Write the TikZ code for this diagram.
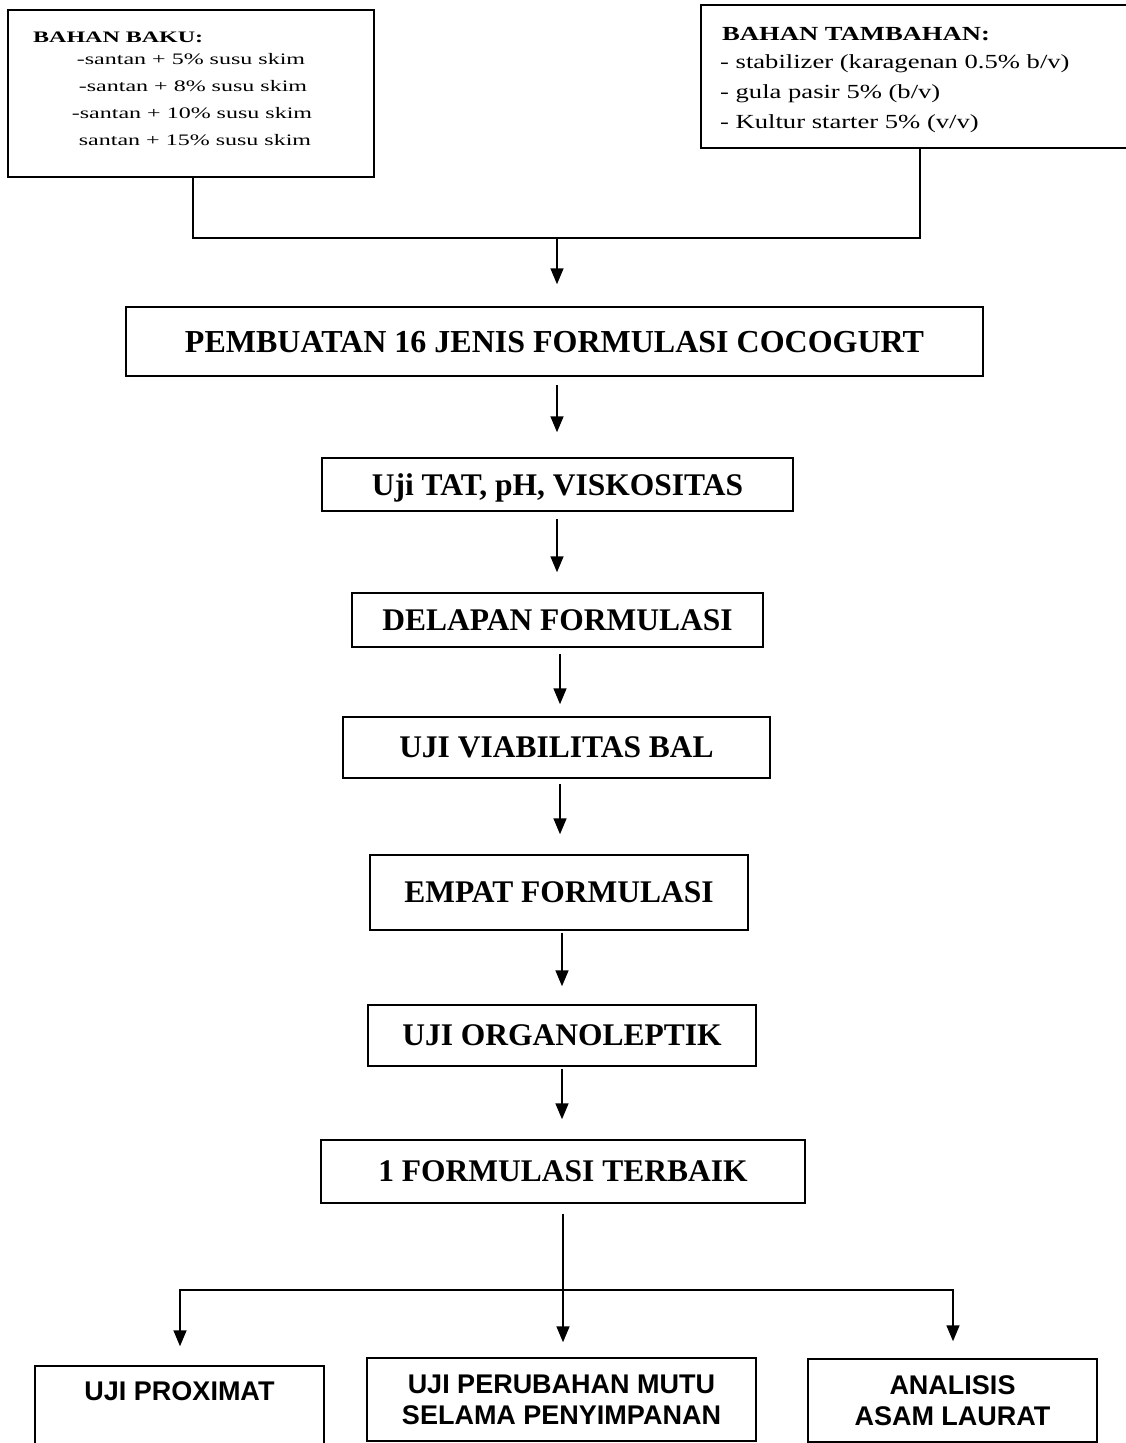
\documentclass[tikz,border=0pt]{standalone}
\usepackage{fontspec}
\setmainfont{Liberation Serif}
\newfontfamily\wideA[FakeStretch=1.5]{Liberation Serif}
\newfontfamily\wideB[FakeStretch=1.33]{Liberation Serif}
\newfontfamily\bsans{Liberation Sans}
\usetikzlibrary{arrows.meta}
\begin{document}
\begin{tikzpicture}[x=1pt,y=-1pt,
  box/.style={draw, line width=1.5pt, inner sep=0pt},
  mainbox/.style={box, text depth=0pt, font=\fontsize{31.5}{36}\selectfont\bfseries},
  lowbox/.style={box, align=center, font=\bsans\fontsize{27}{31}\selectfont\bfseries},
  txtA/.style={inner sep=0pt, font=\wideA\fontsize{16}{18}\selectfont},
  txtB/.style={inner sep=0pt, font=\wideB\fontsize{20}{24}\selectfont},
  conn/.style={line width=1.6pt},
  arr/.style={line width=1.6pt, -{Triangle[width=13pt,length=16pt]}}]
\clip (0,0) rectangle (1126,1443);
\fill[white] (0,0) rectangle (1126,1443);

% top boxes
\node[box, minimum width=366pt, minimum height=167pt] (baku) at (191,93.5) {};
\node[txtA, anchor=base west, font=\wideA\fontsize{16}{18}\selectfont\bfseries] (bakuh) at (33,42) {BAHAN BAKU:};
\node[txtA, anchor=base] (baku1) at (191,64) {-santan + 5\% susu skim};
\node[txtA, anchor=base] (baku2) at (193,91) {-santan + 8\% susu skim};
\node[txtA, anchor=base] (baku3) at (192,118) {-santan + 10\% susu skim};
\node[txtA, anchor=base] (baku4) at (195,145) {santan + 15\% susu skim};

\node[box, minimum width=439pt, minimum height=143pt] (tamb) at (920.5,76.5) {};
\node[txtB, anchor=base west, font=\wideB\fontsize{20}{24}\selectfont\bfseries] (tambh) at (722,40) {BAHAN TAMBAHAN:};
\node[txtB, anchor=base west] (tamb1) at (720,68) {- stabilizer (karagenan 0.5\% b/v)};
\node[txtB, anchor=base west] (tamb2) at (720,98) {- gula pasir 5\% (b/v)};
\node[txtB, anchor=base west] (tamb3) at (720,128) {- Kultur starter 5\% (v/v)};

% main chain
\node[mainbox, font=\fontsize{32}{36}\selectfont\bfseries, minimum width=857pt, minimum height=69pt] (pemb) at (554.5,341.5) {PEMBUATAN 16 JENIS FORMULASI COCOGURT};
\node[mainbox, minimum width=471pt, minimum height=53pt] (tat) at (557.5,484.5) {Uji TAT, pH, VISKOSITAS};
\node[mainbox, minimum width=411pt, minimum height=54pt] (del) at (557.5,620) {DELAPAN FORMULASI};
\node[mainbox, minimum width=427pt, minimum height=61pt] (via) at (556.5,747.5) {UJI VIABILITAS BAL};
\node[mainbox, minimum width=378pt, minimum height=75pt] (emp) at (559,892.5) {EMPAT FORMULASI};
\node[mainbox, minimum width=388pt, minimum height=61pt] (org) at (562,1035.5) {UJI ORGANOLEPTIK};
\node[mainbox, minimum width=484pt, minimum height=63pt] (best) at (563,1171.5) {1 FORMULASI TERBAIK};

% bottom boxes
\node[lowbox, minimum width=289pt, minimum height=100pt, text height=19.3pt, text depth=50pt] (prox) at (179.5,1416) {UJI PROXIMAT};
\node[lowbox, minimum width=389pt, minimum height=83pt] (mut) at (561.5,1399.5) {UJI PERUBAHAN MUTU\\SELAMA PENYIMPANAN};
\node[lowbox, minimum width=289pt, minimum height=83pt] (anal) at (952.5,1400.5) {ANALISIS\\ASAM LAURAT};

% connectors top
\coordinate (jl) at (193,238);
\coordinate (jr) at (920,238);
\coordinate (jm) at (557,238);
\draw[conn] (jl |- baku.south) -- (jl) -- (jr) -- (jr |- tamb.south);
\draw[arr, shorten >=22pt] (jm) -- (jm |- pemb.north);

% chain arrows
\coordinate (ax1) at (557,0);
\coordinate (ax2) at (560,0);
\coordinate (ax3) at (562,0);
\draw[arr, shorten <=8pt, shorten >=25pt] (pemb.south -| ax1) -- (tat.north -| ax1);
\draw[arr, shorten <=7pt, shorten >=20pt] (tat.south -| ax1) -- (del.north -| ax1);
\draw[arr, shorten <=6pt, shorten >=12pt] (del.south -| ax2) -- (via.north -| ax2);
\draw[arr, shorten <=5pt, shorten >=20pt] (via.south -| ax2) -- (emp.north -| ax2);
\draw[arr, shorten <=2pt, shorten >=18pt] (emp.south -| ax3) -- (org.north -| ax3);
\draw[arr, shorten <=2pt, shorten >=20pt] (org.south -| ax3) -- (best.north -| ax3);

% bottom split
\coordinate (jb) at (563,1290);
\coordinate (bl) at (180,1290);
\coordinate (br) at (953,1290);
\draw[arr, shorten <=10pt, shorten >=15pt] (best.south -| jb) -- (mut.north -| jb);
\draw[arr, shorten >=19pt] (jb) -- (bl) -- (bl |- prox.north);
\draw[arr, shorten >=17pt] (jb) -- (br) -- (br |- anal.north);
\end{tikzpicture}
\end{document}
